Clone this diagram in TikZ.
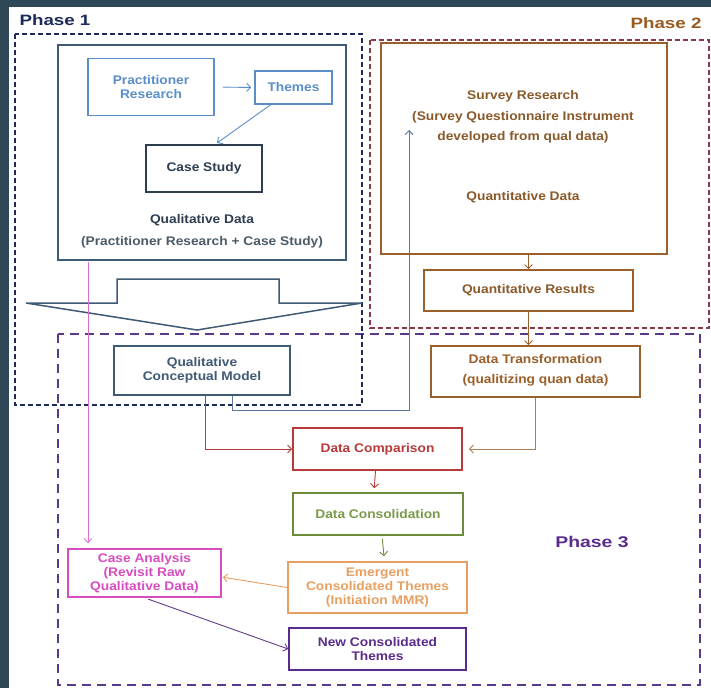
\documentclass[tikz,border=0pt]{standalone}
\usepackage{fontspec}
\setmainfont{Liberation Sans}[FakeStretch=1.1]
\newfontfamily\phasefont{Liberation Sans}[FakeStretch=1.25]
\usetikzlibrary{arrows.meta,calc}
\definecolor{bgdark}{HTML}{2F4858}
\definecolor{navyc}{HTML}{1C2B5A}
\definecolor{maroonc}{HTML}{8B3A4A}
\definecolor{purplec}{HTML}{5A3A8A}
\definecolor{slatec}{HTML}{3F5A75}
\definecolor{lblue}{HTML}{5B8EC8}
\definecolor{darkc}{HTML}{2C3E50}
\definecolor{brownc}{HTML}{9A5F2A}
\definecolor{browntxt}{HTML}{8A5A2A}
\definecolor{redc}{HTML}{B83A3A}
\definecolor{greenc}{HTML}{6D8C3A}
\definecolor{greentxt}{HTML}{7A9A4A}
\definecolor{orangec}{HTML}{E8A062}
\definecolor{nctc}{HTML}{5A2D8C}
\definecolor{magc}{HTML}{D84CC0}
\definecolor{pinkc}{HTML}{E070D0}
\definecolor{linkblue}{HTML}{5878A0}
\definecolor{phase2txt}{HTML}{9A5A1E}
\begin{document}
\begin{tikzpicture}[x=1pt,y=-1pt,
  box/.style={draw, rectangle, inner sep=0pt, align=center, line width=1.6pt,
    font=\bfseries\fontsize{12.5}{14}\selectfont},
  txt/.style={inner sep=0pt, align=center, font=\bfseries\fontsize{12.5}{14}\selectfont},
  phaselbl/.style={inner sep=0pt, font=\phasefont\bfseries\fontsize{15}{16}\selectfont},
  arr/.style={-{Straight Barb[length=4pt,width=8pt]}, line width=0.9pt},
  phasebox/.style={line width=2pt}]
\fill[bgdark] (0,0) rectangle (711,688);
\fill[white] (9,7) rectangle (711,688);
\useasboundingbox (0,0) rectangle (711,688);

% phase boxes
\draw[phasebox, maroonc, dash pattern=on 5pt off 3pt] (370,40) rectangle (709,328);
\draw[phasebox, purplec, dash pattern=on 9pt off 6pt] (58,334) rectangle (700,685);
\draw[phasebox, navyc, dash pattern=on 5pt off 3pt] (15,34) rectangle (362,405);

\node[phaselbl, text=navyc] (p1) at (55,20) {Phase 1};
\node[phaselbl, text=phase2txt] (p2) at (666,23) {Phase 2};
\node[phaselbl, text=nctc, font=\phasefont\bfseries\fontsize{15.5}{16}\selectfont] (p3) at (592,542) {Phase 3};

% block arrow
\draw[slatec, fill=white, line width=1.5pt, line join=miter]
  (117,279) -- (279,279) -- (279,303) -- (362,303) -- (197,330) -- (26,303) -- (117,303) -- cycle;

% Phase 1 nodes
\node[box, draw=slatec, minimum width=288pt, minimum height=215pt] (qd) at (202,152.5) {};
\node[box, draw=lblue, text=lblue, minimum width=126pt, minimum height=57pt] (pr) at (151,87) {Practitioner\\Research};
\node[box, draw=lblue, text=lblue, minimum width=77pt, minimum height=33pt] (th) at (293.5,87.5) {Themes};
\node[box, draw=darkc, text=darkc, minimum width=116pt, minimum height=47pt] (cs) at (204,168.5) {Case Study};
\node[txt, text=darkc] (qdt1) at (202,220) {Qualitative Data};
\node[txt, text=darkc!85] (qdt2) at (202,242) {(Practitioner Research + Case Study)};
\node[box, draw=slatec, text=slatec, minimum width=176pt, minimum height=49pt] (qcm) at (202,370.5) {Qualitative\\Conceptual Model};

% Phase 2 nodes
\node[box, draw=brownc, minimum width=286pt, minimum height=211pt] (sr) at (524,148.5) {};
\node[txt, text=browntxt] (srt1) at (523,96) {Survey Research};
\node[txt, text=browntxt] (srt2) at (523,117) {(Survey Questionnaire Instrument};
\node[txt, text=browntxt] (srt3) at (523,137) {developed from qual data)};
\node[txt, text=browntxt] (srt4) at (523,197) {Quantitative Data};
\node[box, draw=brownc, text=browntxt, minimum width=209pt, minimum height=41pt] (qr) at (528.5,290.5) {Quantitative Results};
\node[box, draw=brownc, minimum width=209pt, minimum height=51pt] (dt) at (535.5,371.5) {};
\node[txt, text=brownc] (dtt1) at (535.5,359) {Data Transformation};
\node[txt, text=brownc] (dtt2) at (535.5,380) {(qualitizing quan data)};

% Phase 3 nodes
\node[box, draw=redc, text=redc, minimum width=169pt, minimum height=42pt] (dcomp) at (377.5,449) {Data Comparison};
\node[box, draw=greenc, text=greentxt, minimum width=170pt, minimum height=42pt] (dcons) at (378,514) {Data Consolidation};
\node[box, draw=orangec, text=orangec, minimum width=179pt, minimum height=51pt] (em) at (377.5,587.5) {Emergent\\Consolidated Themes\\(Initiation MMR)};
\node[box, draw=nctc, text=nctc, minimum width=177pt, minimum height=42pt] (nct) at (377.5,649) {New Consolidated\\Themes};
\node[box, draw=magc, text=magc, minimum width=153pt, minimum height=48pt] (ca) at (144.5,573) {Case Analysis\\(Revisit Raw\\Qualitative Data)};

% connectors
\draw[arr, lblue, shorten <=8pt, shorten >=3pt] (pr.east) -- (th.west);
\draw[arr, lblue, shorten >=2pt] (th.217) -- (cs.65);
\draw[arr, brownc] (qr.north |- sr.south) -- (qr.north);
\draw[arr, brownc] (qr.south) -- (qr.south |- dt.north);
\draw[arr, brownc!80, shorten >=6pt] (dt.south) |- (dcomp.east);
\draw[arr, redc] ($(qcm.south)+(3,0)$) |- (dcomp.west);
\coordinate (qbend) at (232,410);
\coordinate (qtop) at (409,130);
\draw[arr, linkblue] (qcm.south -| qbend) -- (qbend) -| (qtop);
\coordinate (pinkstart) at (88,262);
\draw[arr, pinkc, shorten >=5pt] (pinkstart) -- (pinkstart |- ca.north);
\draw[arr, redc, shorten >=4pt] ($(dcomp.south)+(-2,0)$) -- ($(dcons.north)+(-4,0)$);
\draw[arr, greenc, shorten <=3pt, shorten >=5pt] ($(dcons.south)+(4,0)$) -- ($(em.north)+(7,0)$);
\draw[arr, orangec, shorten >=1pt] (em.west) -- (ca.-3);
\draw[arr, nctc!80!gray, shorten <=4pt] (ca.south) -- (nct.west);
\end{tikzpicture}
\end{document}
